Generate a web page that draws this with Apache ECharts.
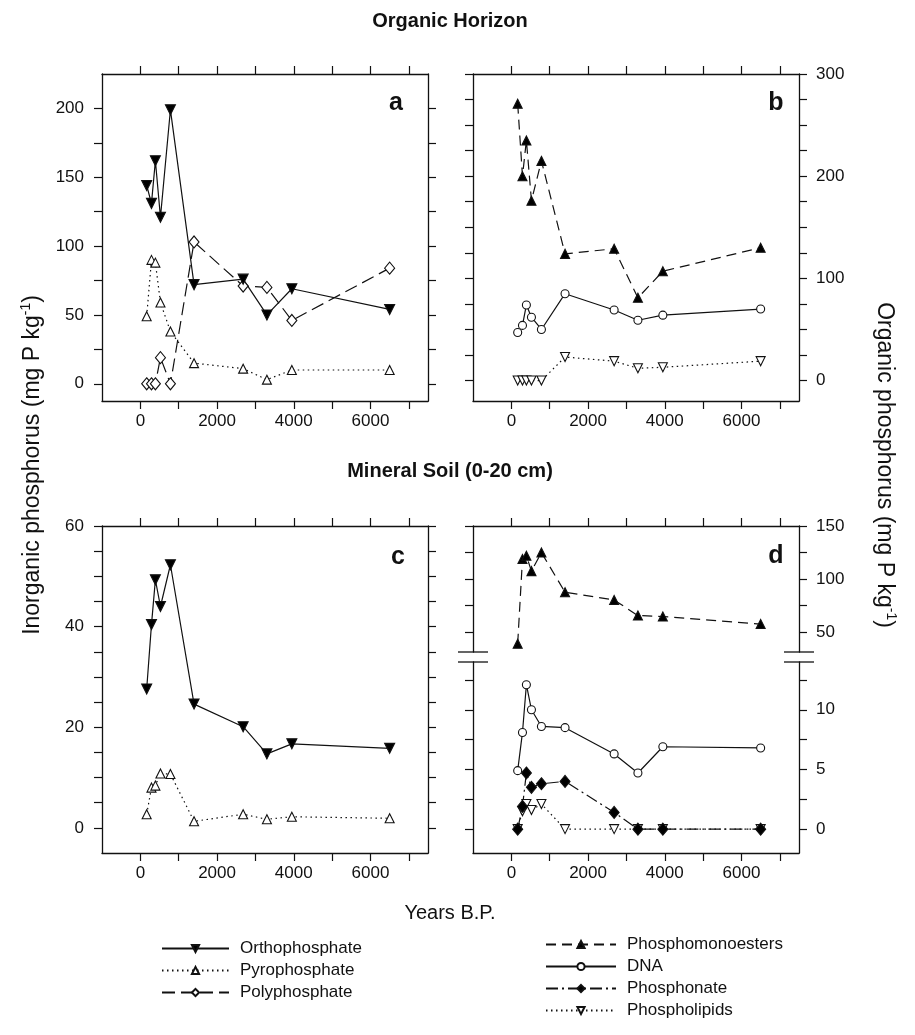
<!DOCTYPE html>
<html>
<head>
<meta charset="utf-8">
<script src="https://cdn.jsdelivr.net/npm/echarts@6/dist/echarts.min.js"></script>
<style>
  html, body { margin: 0; padding: 0; background: #fff; }
  #chart { width: 915px; height: 1035px; }
</style>
</head>
<body>
<div id="chart"></div>
<script>
// years B.P. of the chronosequence sites
const years = [165, 290, 392, 524, 784, 1400, 2680, 3300, 3950, 6500];

// organic horizon, inorganic P (panel a)
const orthoOrg = [144, 131, 162, 121, 199, 72, 76, 50, 69, 54];
const pyroOrg = [49, 90, 88, 59, 38, 15, 11, 3, 10, 10];
const polyOrg = [0, 0, 0, 19, 0, 103, 71, 70, 46, 84];

// organic horizon, organic P (panel b)
const monoOrg = [271, 200, 235, 176, 215, 124, 129, 81, 107, 130];
const dnaOrg = [47, 54, 74, 62, 50, 85, 69, 59, 64, 70];
const lipidOrg = [0, 0, 0, 0, 0, 23, 19, 12, 13, 19];

// mineral soil, inorganic P (panel c)
const orthoMin = [27.6, 40.4, 49.3, 44, 52.3, 24.6, 20.1, 14.7, 16.7, 15.8];
const pyroMin = [2.7, 8, 8.4, 10.8, 10.7, 1.3, 2.7, 1.7, 2.2, 1.9];

// mineral soil, organic P (panel d)
const monoMin = [39, 119, 122, 107.5, 125, 87.6, 80.3, 65.6, 64.7, 57.6];
const dnaMin = [4.9, 8.1, 12.1, 10, 8.6, 8.5, 6.3, 4.7, 6.9, 6.8];
const phonMin = [0, 1.9, 4.7, 3.5, 3.8, 4.0, 1.4, 0, 0, 0];
const lipidMin = [0, 1.5, 2.1, 1.6, 2.1, 0, 0, 0, 0, 0];

// tick positions and labels
const xTicks = [0, 1000, 2000, 3000, 4000, 5000, 6000, 7000];
const xLabels = [0, 2000, 4000, 6000];
const aTicks = [0, 25, 50, 75, 100, 125, 150, 175, 200];
const aLabels = [0, 50, 100, 150, 200];
const bTicks = [0, 25, 50, 75, 100, 125, 150, 175, 200, 225, 250, 275, 300];
const bLabels = [0, 100, 200, 300];
const cTicks = [0, 5, 10, 15, 20, 25, 30, 35, 40, 45, 50, 55, 60];
const cLabels = [0, 20, 40, 60];
const dUpTicks = [50, 75, 100, 125, 150];
const dUpLabels = [50, 100, 150];
const dLowTicks = [0, 2.5, 5, 7.5, 10, 12.5];
const dLowLabels = [0, 5, 10];

const FONT = 'Liberation Sans, Arial, sans-serif';
const INK = '#111';

const chart = echarts.init(document.getElementById('chart'));

const L1 = 102, L2 = 473, W = 326;
const grids = [
  {left: L1, top: 74, width: W, height: 327},      // a
  {left: L2, top: 74, width: W, height: 327},      // b
  {left: L1, top: 526, width: W, height: 327},     // c
  {left: L2, top: 526, width: W, height: 126},     // d upper
  {left: L2, top: 662, width: W, height: 191}      // d lower
];

const plain = v => String(v);

function xAxis(grid, pos, showLabel) {
  return {
    type: 'value', gridIndex: grid, position: pos, min: -1000, max: 7500,
    axisLine: {show: true, onZero: false, lineStyle: {color: INK, width: 1.3}},
    axisTick: {show: true, length: 8, customValues: xTicks, lineStyle: {color: INK, width: 1.2}},
    axisLabel: {show: showLabel, customValues: xLabels, formatter: plain, margin: 12,
      fontSize: 17, color: INK, fontFamily: FONT},
    splitLine: {show: false}
  };
}

function yAxis(grid, pos, min, max, ticks, labels, showLabel) {
  return {
    type: 'value', gridIndex: grid, position: pos, min: min, max: max,
    axisLine: {show: true, onZero: false, lineStyle: {color: INK, width: 1.3}},
    axisTick: {show: true, length: 8, customValues: ticks, lineStyle: {color: INK, width: 1.2}},
    axisLabel: {show: showLabel, customValues: labels, formatter: plain, margin: pos === 'left' ? 18 : 17,
      fontSize: 17, color: INK, fontFamily: FONT},
    splitLine: {show: false}
  };
}

const xAxes = [
  xAxis(0, 'bottom', true), xAxis(0, 'top', false),   // 0,1
  xAxis(1, 'bottom', true), xAxis(1, 'top', false),   // 2,3
  xAxis(2, 'bottom', true), xAxis(2, 'top', false),   // 4,5
  xAxis(3, 'top', false),                             // 6
  xAxis(4, 'bottom', true)                            // 7
];

const yAxes = [
  yAxis(0, 'left', -12.5, 225, aTicks, aLabels, true),      // 0
  yAxis(0, 'right', -12.5, 225, aTicks, aLabels, false),    // 1
  yAxis(1, 'left', -20, 300, bTicks, bLabels, false),       // 2
  yAxis(1, 'right', -20, 300, bTicks, bLabels, true),       // 3
  yAxis(2, 'left', -5, 60, cTicks, cLabels, true),          // 4
  yAxis(2, 'right', -5, 60, cTicks, cLabels, false),        // 5
  yAxis(3, 'left', 31.25, 150, dUpTicks, dUpLabels, false), // 6
  yAxis(3, 'right', 31.25, 150, dUpTicks, dUpLabels, true), // 7
  yAxis(4, 'left', -2, 14, dLowTicks, dLowLabels, false),   // 8
  yAxis(4, 'right', -2, 14, dLowTicks, dLowLabels, true)    // 9
];

const pairs = vals => years.map((x, i) => [x, vals[i]]);

const styles = {
  'Orthophosphate': {symbol: 'triangle', symbolRotate: 180, symbolSize: 10, fill: '#000', line: 'solid'},
  'Pyrophosphate': {symbol: 'triangle', symbolRotate: 0, symbolSize: 9, fill: '#fff', line: [1.5, 3.5]},
  'Polyphosphate': {symbol: 'diamond', symbolRotate: 0, symbolSize: [10, 12], fill: '#fff', line: [13, 6]},
  'Phosphomonoesters': {symbol: 'triangle', symbolRotate: 0, symbolSize: 9, fill: '#000', line: [10, 6]},
  'DNA': {symbol: 'circle', symbolRotate: 0, symbolSize: 8, fill: '#fff', line: 'solid'},
  'Phosphonate': {symbol: 'diamond', symbolRotate: 0, symbolSize: [10, 12], fill: '#000', line: [12, 4, 2, 4]},
  'Phospholipids': {symbol: 'triangle', symbolRotate: 180, symbolSize: 9, fill: '#fff', line: [1.5, 3.5]}
};

function line(name, vals, xi, yi) {
  const s = styles[name];
  return {
    name: name, type: 'line', xAxisIndex: xi, yAxisIndex: yi, data: pairs(vals),
    symbol: s.symbol, symbolRotate: s.symbolRotate, symbolSize: s.symbolSize,
    showAllSymbol: true, animation: false, silent: true,
    lineStyle: {color: INK, width: 1.2, type: s.line},
    itemStyle: {color: s.fill, borderColor: INK, borderWidth: 1.1}
  };
}

const series = [
  line('Pyrophosphate', pyroOrg, 0, 0),
  line('Polyphosphate', polyOrg, 0, 0),
  line('Orthophosphate', orthoOrg, 0, 0),
  line('Phospholipids', lipidOrg, 2, 2),
  line('DNA', dnaOrg, 2, 2),
  line('Phosphomonoesters', monoOrg, 2, 2),
  line('Pyrophosphate', pyroMin, 4, 4),
  line('Orthophosphate', orthoMin, 4, 4),
  line('Phosphomonoesters', monoMin, 6, 6),
  line('Phospholipids', lipidMin, 7, 8),
  line('Phosphonate', phonMin, 7, 8),
  line('DNA', dnaMin, 7, 8)
];

const txt = (text, x, y, size, bold) => ({
  type: 'text', x: x, y: y,
  style: {text: text, fontSize: size, fontWeight: bold ? 'bold' : 'normal', fontFamily: FONT,
    fill: INK, textAlign: 'center', textVerticalAlign: 'middle'}
});

const axisTitleRich = {
  m: {fontSize: 23, lineHeight: 27, fontFamily: FONT, fill: INK, color: INK},
  s: {fontSize: 14, lineHeight: 14, fontFamily: FONT, fill: INK, color: INK, verticalAlign: 'top'}
};

function breakMarks(xc) {
  return [652, 662].map(y => ({
    type: 'line', shape: {x1: xc - 15, y1: y, x2: xc + 15, y2: y},
    style: {stroke: INK, lineWidth: 1.3}
  }));
}

const graphic = [
  txt('Organic Horizon', 450, 21, 20, true),
  txt('Mineral Soil (0-20 cm)', 450, 471, 20, true),
  txt('Years B.P.', 450, 913, 20, false),
  txt('a', 396, 103, 25, true),
  txt('b', 776, 103, 25, true),
  txt('c', 398, 557, 25, true),
  txt('d', 776, 556, 25, true),
  {type: 'text', x: 33, y: 465, rotation: Math.PI / 2,
    style: {text: '{m|Inorganic phosphorus (mg P kg}{s|-1}{m|)}', rich: axisTitleRich,
      textAlign: 'center', textVerticalAlign: 'middle'}},
  {type: 'text', x: 884, y: 465, rotation: -Math.PI / 2,
    style: {text: '{m|Organic phosphorus (mg P kg}{s|-1}{m|)}', rich: axisTitleRich,
      textAlign: 'center', textVerticalAlign: 'middle'}}
].concat(breakMarks(L2), breakMarks(L2 + W));

const legendBase = {
  orient: 'vertical', itemWidth: 67, itemHeight: 9, itemGap: 5, selectedMode: false,
  textStyle: {fontSize: 17, color: INK, fontFamily: FONT, padding: [0, 0, 0, 6]}
};

chart.setOption({
  animation: false,
  backgroundColor: '#fff',
  grid: grids,
  xAxis: xAxes,
  yAxis: yAxes,
  legend: [
    Object.assign({}, legendBase, {left: 156, top: 935, data: ['Orthophosphate', 'Pyrophosphate', 'Polyphosphate']}),
    Object.assign({}, legendBase, {left: 540, top: 931, itemWidth: 70, data: ['Phosphomonoesters', 'DNA', 'Phosphonate', 'Phospholipids']})
  ],
  graphic: graphic,
  series: series
});
</script>
</body>
</html>
